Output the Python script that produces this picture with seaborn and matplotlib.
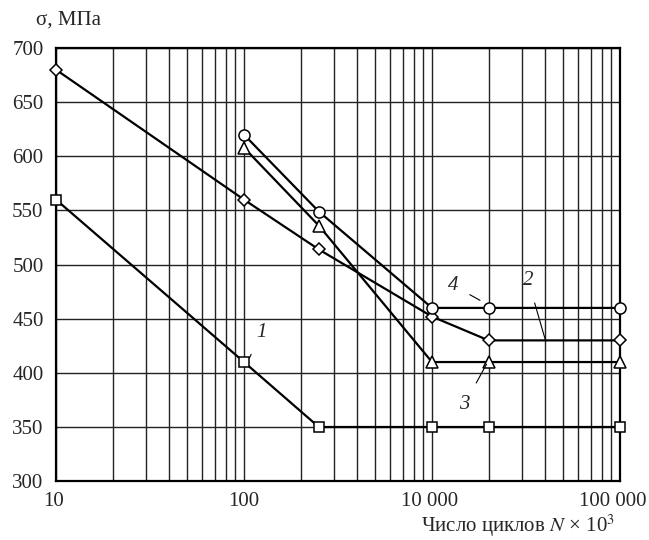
"""Fatigue curves: stress vs number of cycles"""

import matplotlib
matplotlib.use("Agg")
import matplotlib.pyplot as plt
import matplotlib.transforms as mtransforms
import numpy as np
import pandas as pd
import seaborn as sb
from matplotlib.ticker import FixedLocator, LogLocator, NullFormatter

# Data (x in plot units, y in MPa)
cycles_1 = [10, 100, 250, 1000, 2000, 10000]
stress_1 = [560, 410, 350, 350, 350, 350]

cycles_2 = [10, 100, 250, 1000, 2000, 10000]
stress_2 = [680, 560, 514, 452, 430, 430]

cycles_3 = [100, 250, 1000, 2000, 10000]
stress_3 = [608, 536, 410, 410, 410]

cycles_4 = [100, 250, 1000, 2000, 10000]
stress_4 = [620, 549, 460, 460, 460]

x_ticks = [10, 100, 1000, 10000]
x_tick_labels = ["10", "100", "10 000", "100 000"]
y_ticks = [300, 350, 400, 450, 500, 550, 600, 650, 700]

FS = 15

sb.set_style("white")
plt.rcParams["font.family"] = ["Liberation Serif", "DejaVu Serif"]
plt.rcParams["mathtext.fontset"] = "stix"

fig = plt.figure(figsize=(6.49, 5.40), dpi=100)
ax = fig.add_axes([0.0863, 0.109, 0.869, 0.802])

series = [
    (cycles_1, stress_1, "s", 6.5),
    (cycles_2, stress_2, "D", 6.0),
    (cycles_3, stress_3, "^", 8.0),
    (cycles_4, stress_4, "o", 8.0),
]
for xs, ys, mk, ms in series:
    df = pd.DataFrame({"N": xs, "sigma": ys})
    sb.lineplot(
        data=df, x="N", y="sigma", ax=ax, color="black", linewidth=1.6,
        marker=mk, markersize=ms, markerfacecolor="white",
        markeredgecolor="black", markeredgewidth=1.1, zorder=5, clip_on=False,
    )

ax.set_xscale("log")
ax.set_xlim(10, 10000)
ax.set_ylim(300, 700)

ax.xaxis.set_major_locator(FixedLocator(x_ticks))
ax.set_xticklabels(x_tick_labels)
ax.xaxis.set_minor_locator(LogLocator(base=10, subs=np.arange(2, 10)))
ax.xaxis.set_minor_formatter(NullFormatter())
ax.set_yticks(y_ticks)

ax.grid(True, which="both", axis="x", color="#222222", linewidth=1.0)
ax.grid(True, which="major", axis="y", color="#222222", linewidth=1.0)
ax.tick_params(axis="both", which="both", length=0, labelsize=FS)
ax.tick_params(axis="x", pad=8)
ax.tick_params(axis="y", pad=9)
for side in ["left", "bottom", "top", "right"]:
    ax.spines[side].set_color("black")
    ax.spines[side].set_linewidth(1.6)
ax.set_xlabel("")
ax.set_ylabel("")

# the reference's x labels sit a little left of their grid lines
shifts = [-2, 0, -2, -7]
for lbl, dx in zip(ax.get_xticklabels(), shifts):
    lbl.set_transform(lbl.get_transform() + mtransforms.ScaledTranslation(dx / 100, 0, fig.dpi_scale_trans))

# Curve numbers with leader lines
labels = [
    ("1", (107, 414), (124, 437)),
    ("4", (1800, 467), (1290, 481)),
    ("2", (4000, 431), (3250, 485)),
    ("3", (1950, 408), (1490, 371)),
]
for txt, end, pos in labels:
    ax.annotate(
        txt, xy=end, xytext=pos, fontsize=FS, fontstyle="italic",
        ha="center", va="center", zorder=6,
        arrowprops=dict(arrowstyle="-", color="black", linewidth=0.8, shrinkA=7, shrinkB=0),
    )

fig.text(0.055, 0.962, "σ, МПа", fontsize=FS, ha="left", va="center")
fig.text(0.948, 0.026, r"Число циклов $N$ × 10$^3$", fontsize=FS, ha="right", va="center")

fig.savefig("out.png", dpi=100)
